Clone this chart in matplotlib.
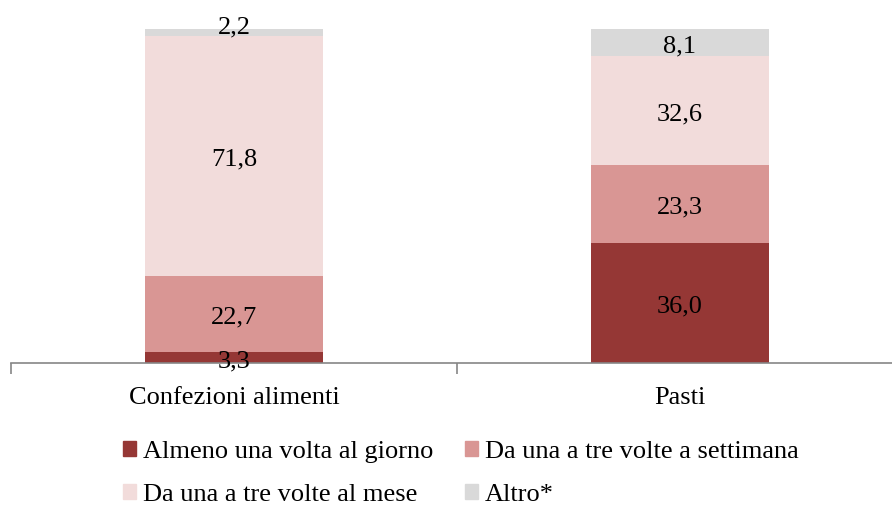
import matplotlib.pyplot as plt
from matplotlib.patches import Patch

plt.rcParams['font.family'] = ['Liberation Serif', 'DejaVu Serif']

categorie = ['Confezioni alimenti', 'Pasti']
serie = ['Almeno una volta al giorno', 'Da una a tre volte a settimana',
         'Da una a tre volte al mese', 'Altro*']
giorno = [3.3, 36.0]
settimana = [22.7, 23.3]
mese = [71.8, 32.6]
altro = [2.2, 8.1]
colori = ['#953735', '#D99694', '#F2DCDB', '#D9D9D9']

fig = plt.figure(figsize=(8.92, 5.05), dpi=100)
ax = fig.add_axes([11 / 892, 142 / 505, 892 / 892, 334 / 505])

x = range(len(categorie))
bottom = [0, 0]
for valori, col in zip([giorno, settimana, mese, altro], colori):
    ax.bar(x, valori, width=0.4, bottom=bottom, color=col)
    for i, v in enumerate(valori):
        dy = 4 if v < 3 else -2.5  # etichetta piccola un po' più in alto
        ax.annotate(f'{v:.1f}'.replace('.', ','), (i, bottom[i] + v / 2),
                    xytext=(0, dy), textcoords='offset points',
                    ha='center', va='center', fontsize=19)
    bottom = [b + v for b, v in zip(bottom, valori)]

ax.set_xlim(-0.5, 1.5)
ax.set_ylim(0, 100)
for s in ['top', 'right', 'left']:
    ax.spines[s].set_visible(False)
ax.spines['bottom'].set_color('#868686')
ax.spines['bottom'].set_linewidth(1.2)
ax.set_yticks([])
ax.set_xticks(list(x))
ax.set_xticklabels(categorie, fontsize=19)
ax.tick_params(axis='x', which='major', length=0, pad=17)
ax.set_xticks([-0.5, 0.5, 1.5], minor=True)
ax.tick_params(axis='x', which='minor', length=8, width=1.2, color='#868686')

# ordine per righe come nel riferimento
ordine = [0, 2, 1, 3]
handles = [Patch(color=colori[i]) for i in ordine]
etichette = [serie[i] for i in ordine]
fig.legend(handles, etichette, loc='upper left', bbox_to_anchor=(112.5 / 892, 1 - 430 / 505),
           ncol=2, frameon=False, fontsize=19, handlelength=0.5, handleheight=0.5,
           handletextpad=0.25, columnspacing=1.2, labelspacing=0.8, borderaxespad=0)

fig.savefig('out.png', dpi=100)
